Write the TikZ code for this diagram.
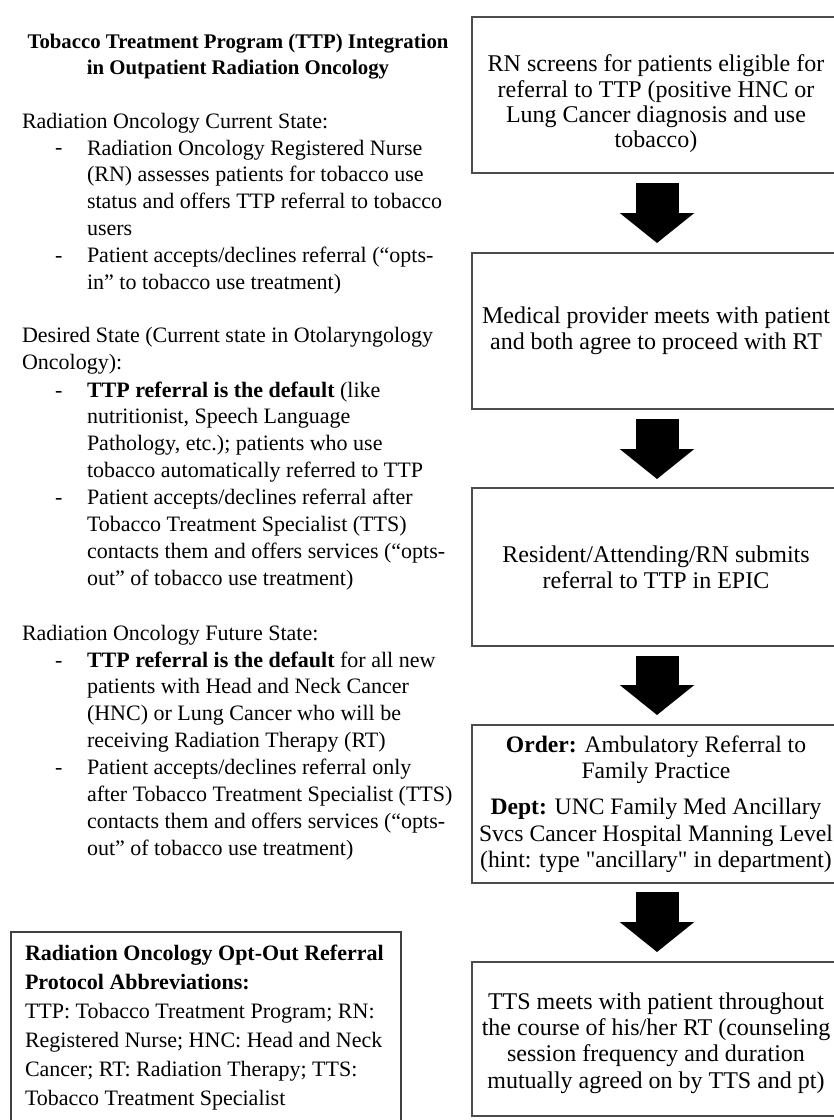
\documentclass[tikz,border=0pt]{standalone}
\usepackage{fontspec}
\setmainfont{Liberation Serif}
\usetikzlibrary{arrows.meta,calc}
\newcommand{\fsz}{\fontsize{16.5pt}{20.2pt}\selectfont}
\tikzset{
  every node/.style={inner sep=0pt, outer sep=0pt},
  txt/.style={font=\fsz, align=left, anchor=base west},
  dashlbl/.style={font=\fsz, anchor=base west},
  stepbox/.style={draw=black!70, line width=1.1pt, minimum width=276pt,
    align=center, font=\fontsize{18pt}{19.7pt}\selectfont},
  bigarrow/.style={line width=32.25pt, black, -{Triangle[length=22.5pt, width=54.75pt]}},
  framebox/.style={draw=black!75, line width=1.1pt},
}
\begin{document}
\begin{tikzpicture}[x=0.75pt, y=-0.75pt]
\useasboundingbox (0,0) rectangle (833,1120);
\fill[white] (0,0) rectangle (833,1120);

% ---- left column (anchor = baseline of the last line) ----
\node[font=\fontsize{15.6pt}{20.2pt}\selectfont\bfseries, align=center, anchor=base] (title) at (238,75)
  {Tobacco Treatment Program (TTP) Integration\\in Outpatient Radiation Oncology};

\node[txt] (h1) at (22,129) {Radiation Oncology Current State:};
\node[dashlbl] (d1) at (55,155) {-};
\node[txt] (t1) at (87,235.8) {Radiation Oncology Registered Nurse\\(RN) assesses patients for tobacco use\\status and offers TTP referral to tobacco\\users};
\node[dashlbl] (d2) at (55,262.6) {-};
\node[txt] (t2) at (87,289.5) {Patient accepts/declines referral (``opts-\\in'' to tobacco use treatment)};

\node[txt] (h2) at (22,369.9) {Desired State (Current state in Otolaryngology\\Oncology):};
\node[dashlbl] (d3) at (55,397) {-};
\node[txt] (t3) at (87,477.8) {\textbf{TTP referral is the default} (like\\nutritionist, Speech Language\\Pathology, etc.); patients who use\\tobacco automatically referred to TTP};
\node[dashlbl] (d4) at (55,504.6) {-};
\node[txt] (t4) at (87,585.4) {Patient accepts/declines referral after\\Tobacco Treatment Specialist (TTS)\\contacts them and offers services (``opts-\\out'' of tobacco use treatment)};

\node[txt] (h3) at (22,640) {Radiation Oncology Future State:};
\node[dashlbl] (d5) at (55,667) {-};
\node[txt] (t5) at (87,747.8) {\textbf{TTP referral is the default} for all new\\patients with Head and Neck Cancer\\(HNC) or Lung Cancer who will be\\receiving Radiation Therapy (RT)};
\node[dashlbl] (d6) at (55,774.6) {-};
\node[txt] (t6) at (87,855.4) {Patient accepts/declines referral only\\after Tobacco Treatment Specialist (TTS)\\contacts them and offers services (``opts-\\out'' of tobacco use treatment)};

% abbreviations box
\draw[framebox] (11,932) rectangle (401,1135);
\node[font=\fontsize{16.5pt}{21.75pt}\selectfont, align=left, anchor=base west] (abbr) at (25,1105)
  {\textbf{Radiation Oncology Opt-Out Referral}\\\textbf{Protocol Abbreviations:}\\TTP: Tobacco Treatment Program; RN:\\Registered Nurse; HNC: Head and Neck\\Cancer; RT: Radiation Therapy; TTS:\\Tobacco Treatment Specialist};

% ---- right column ----
\node[stepbox, minimum height=117pt, font=\fontsize{18pt}{19pt}\selectfont] (b1) at (656,95)
  {\rule{0pt}{26pt}RN screens for patients eligible for\\referral to TTP (positive HNC or\\Lung Cancer diagnosis and use\\tobacco)};
\node[stepbox, minimum height=117pt] (b2) at (656,331)
  {Medical provider meets with patient\\and both agree to proceed with RT};
\node[stepbox, minimum height=118.5pt] (b3) at (656,567)
  {Resident/Attending/RN submits\\referral to TTP in EPIC};
\node[stepbox, minimum height=118.5pt, font=\fontsize{17.7pt}{19.7pt}\selectfont] (b4) at (656,804)
  {\textbf{Order:} Ambulatory Referral to\\Family Practice\\[7.5pt]\textbf{Dept:} UNC Family Med Ancillary\\Svcs Cancer Hospital Manning Level\\(hint: type \textquotedbl ancillary\textquotedbl{} in department)};
\node[stepbox, minimum height=115.5pt] (b5) at (656,1039)
  {\rule{0pt}{18.5pt}TTS meets with patient throughout\\the course of his/her RT (counseling\\session frequency and duration\\mutually agreed on by TTS and pt)};

\draw[bigarrow] ($(b1.south)+(1,10)$) -- ($(b2.north)+(1,-10)$);
\draw[bigarrow] ($(b2.south)+(1,10)$) -- ($(b3.north)+(1,-9)$);
\draw[bigarrow] ($(b3.south)+(1,10)$) -- ($(b4.north)+(1,-10)$);
\draw[bigarrow] ($(b4.south)+(1,9)$) -- ($(b5.north)+(1,-10)$);
\end{tikzpicture}
\end{document}
